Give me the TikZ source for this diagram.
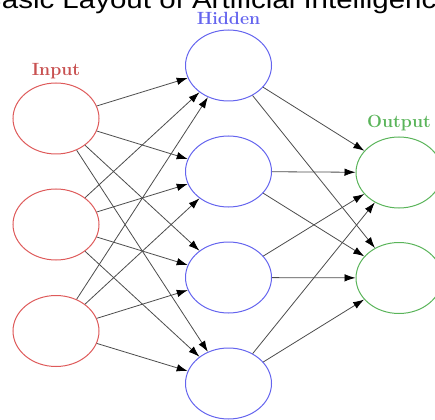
\documentclass[tikz,border=0pt]{standalone}
\usepackage{fontspec}
\newfontfamily\titlefont{Liberation Sans}
\usetikzlibrary{shapes.geometric,arrows.meta}
\definecolor{inred}{RGB}{222,90,90}
\definecolor{hidblue}{RGB}{100,100,238}
\definecolor{outgreen}{RGB}{90,180,90}
\begin{document}
\begin{tikzpicture}[x=1pt,y=-1pt,
  neuron/.style={ellipse,draw,line width=1pt,minimum width=86pt,minimum height=71pt,inner sep=0pt},
  conn/.style={draw=black!70,line width=0.8pt,-{Latex[length=11pt,width=7.5pt,color=black]}},
  lbl/.style={anchor=base,font=\fontsize{17.7}{20}\selectfont\bfseries}]
\useasboundingbox (0,0) rectangle (435,419);
\clip (0,0) rectangle (435,419);
\node[anchor=base,inner sep=0pt,xscale=1.157,font=\titlefont\fontsize{25.5}{28}\selectfont] (title) at (217.5,8.5) {Basic Layout of Artificial Intelligence};
% neurons
\node[neuron,draw=inred] (i1) at (56,118.5) {};
\node[neuron,draw=inred] (i2) at (56,224.5) {};
\node[neuron,draw=inred] (i3) at (56,331) {};
\node[neuron,draw=hidblue] (h1) at (228.5,65.5) {};
\node[neuron,draw=hidblue] (h2) at (228.5,171.5) {};
\node[neuron,draw=hidblue] (h3) at (228.5,277.5) {};
\node[neuron,draw=hidblue] (h4) at (228.5,383.5) {};
\node[neuron,draw=outgreen] (o1) at (399,172.5) {};
\node[neuron,draw=outgreen] (o2) at (399,278) {};
% labels
\node[lbl,text=inred!90!black] (li) at (56,76) {Input};
\node[lbl,text=hidblue] (lh) at (228.5,25) {Hidden};
\node[lbl,text=outgreen] (lo) at (399,128) {Output};
% connections
\foreach \a in {1,2,3}{
  \foreach \b in {1,2,3,4}{
    \draw[conn] (i\a) -- (h\b);
  }
}
\foreach \a in {1,2,3,4}{
  \foreach \b in {1,2}{
    \draw[conn] (h\a) -- (o\b);
  }
}
\end{tikzpicture}
\end{document}
